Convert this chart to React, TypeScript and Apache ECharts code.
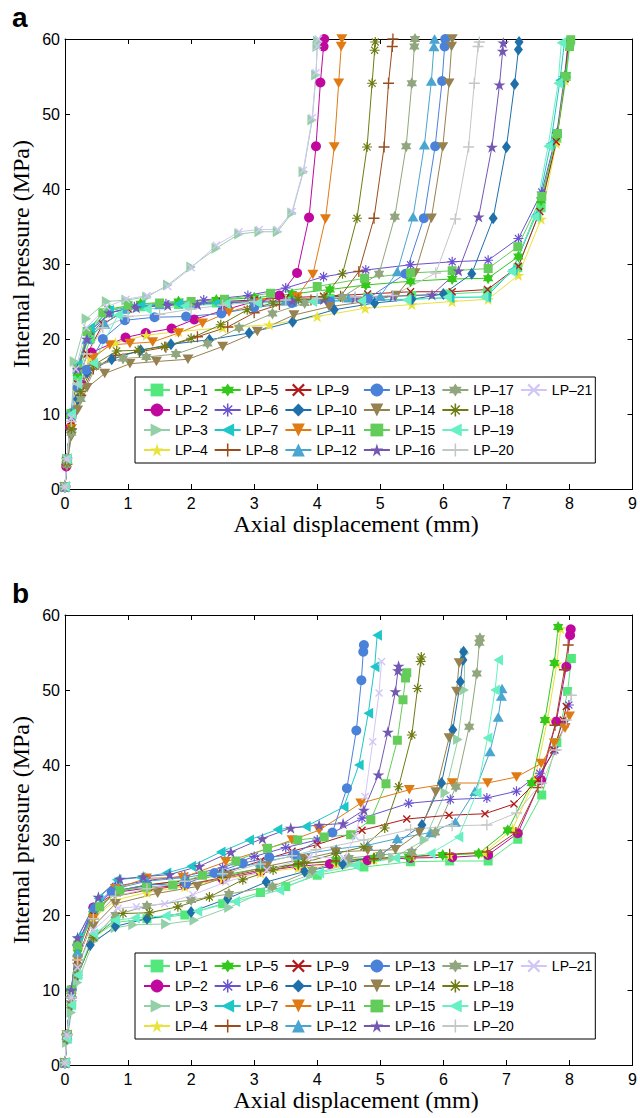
import React, { useEffect, useRef } from "react";
import * as echarts from "echarts";

type P = [number, number][];

// ---------- Panel a data (axial displacement mm, internal pressure MPa) ----------
const A1: P = [[0,0.3],[0.03,4],[0.1,10],[0.2,15],[0.4,20],[0.7,23.5],[1.2,24.3],[1.8,24.6],[2.4,24.8],[3.0,25.0],[3.6,25.2],[4.2,25.4],[4.8,25.6],[5.5,25.8],[6.1,26.0],[6.7,26.3],[7.18,29.5],[7.55,37.5],[7.8,46.8],[7.95,55],[8.01,59.6]];
const A2: P = [[0,0.3],[0.02,3],[0.08,8.2],[0.26,13.9],[0.42,18.2],[0.96,20.2],[1.28,20.8],[1.69,21.4],[2.05,22.6],[2.5,23.8],[3.0,25.0],[3.4,25.8],[3.68,28.8],[3.87,36.2],[3.98,45.7],[4.05,54.2],[4.1,59],[4.11,60]];
const A3: P = [[0,0.3],[0.03,4],[0.1,10],[0.15,17],[0.34,22.7],[0.66,25.0],[0.97,25.2],[1.3,25.6],[1.63,27.2],[2.0,29.6],[2.4,32.1],[2.76,34.0],[3.08,34.3],[3.37,34.3],[3.6,36.8],[3.78,42.3],[3.92,49.2],[3.98,55.2],[4.0,59],[4.01,59.7]];
const A4: P = [[0,0.3],[0.03,3.5],[0.1,8.5],[0.2,13],[0.4,17.5],[0.8,19.5],[1.29,20.5],[1.8,21.0],[2.5,21.5],[3.24,21.9],[4.0,23.0],[4.76,24.1],[5.5,24.6],[6.14,25.0],[6.71,25.3],[7.19,28.5],[7.55,36.0],[7.79,46.1],[7.93,54.5],[7.99,59.5]];
const A5: P = [[0,0.3],[0.03,4],[0.1,10],[0.2,15.5],[0.4,21],[0.7,24],[1.2,24.7],[1.8,25.0],[2.4,25.2],[3.0,25.5],[3.6,26.0],[4.2,26.6],[4.77,27.2],[5.48,27.7],[6.14,28.0],[6.71,28.1],[7.19,31],[7.55,38.5],[7.8,47.2],[7.94,55.2],[8.0,59.7]];
const A6: P = [[0,0.3],[0.03,4],[0.1,10],[0.2,16],[0.4,21],[0.7,23.5],[1.1,24.3],[1.6,24.7],[2.2,25.2],[2.9,25.8],[3.5,26.8],[4.1,28.3],[4.77,29.2],[5.48,29.9],[6.14,30.3],[6.71,30.5],[7.19,33.4],[7.56,39.6],[7.8,47.5],[7.92,55],[7.98,59.5]];
const A7: P = [[0,0.3],[0.03,4],[0.1,10.5],[0.2,16.5],[0.4,21.5],[0.7,23.8],[1.2,24.5],[1.8,24.7],[2.4,24.8],[3.0,24.9],[3.6,25.0],[4.2,25.1],[4.8,25.2],[5.45,25.3],[6.1,25.5],[6.68,25.6],[7.1,29.2],[7.47,36.5],[7.7,46],[7.85,54.5],[7.92,59.6]];
const A8: P = [[0,0.3],[0.03,3.3],[0.1,8],[0.25,12.5],[0.45,16],[0.8,17.8],[1.18,18.3],[1.6,18.9],[2.1,20.3],[2.58,21.6],[3.0,23.5],[3.4,24.6],[3.9,25.2],[4.37,25.7],[4.66,29.0],[4.9,36.1],[5.06,45.6],[5.13,54.1],[5.19,59],[5.2,60]];
const A9: P = [[0,0.3],[0.03,4],[0.1,9],[0.2,14],[0.35,18],[0.6,22],[1.0,24.0],[1.5,24.5],[2.0,24.8],[2.5,25.0],[3.0,25.2],[3.5,25.5],[4.1,25.7],[4.8,26.0],[5.48,26.3],[6.14,26.3],[6.7,26.6],[7.19,29.7],[7.53,37.0],[7.79,46.3],[7.93,54.7],[7.98,59.5]];
const A10: P = [[0,0.3],[0.03,3.5],[0.1,8],[0.2,12],[0.35,15.5],[0.74,17.3],[1.2,18.5],[1.68,19.3],[2.29,19.9],[2.92,20.8],[3.61,22.3],[4.27,23.9],[4.91,24.8],[5.5,25.3],[6.0,26.0],[6.45,28.7],[6.79,36.1],[7.0,45.6],[7.13,54.0],[7.19,58.6],[7.2,59.6]];
const A11: P = [[0,0.3],[0.03,3.5],[0.1,8],[0.25,13.5],[0.45,17.5],[0.71,19.2],[1.03,19.4],[1.39,19.6],[1.8,20.8],[2.18,22.1],[2.6,23.6],[3.1,24.8],[3.68,25.6],[3.93,28.6],[4.13,36.0],[4.27,45.6],[4.34,54.1],[4.38,59],[4.39,60]];
const A12: P = [[0,0.3],[0.03,4],[0.1,10],[0.2,16],[0.35,20],[0.63,22],[0.95,24.0],[1.5,24.6],[2.0,24.8],[2.5,25.0],[3.0,25.0],[3.5,25.1],[4.0,25.3],[4.5,25.5],[5.0,25.7],[5.27,29.0],[5.52,36.3],[5.7,45.9],[5.81,54.4],[5.85,59],[5.86,60]];
const A13: P = [[0,0.3],[0.03,4],[0.1,10],[0.2,13.5],[0.34,15.9],[0.6,20],[0.95,22.5],[1.42,22.9],[1.92,23.0],[2.48,23.4],[3.0,24.2],[3.6,24.8],[4.2,25.0],[4.8,25.4],[5.4,28.7],[5.69,36.1],[5.87,45.7],[5.98,54.4],[6.02,59],[6.03,60]];
const A14: P = [[0,0.3],[0.03,3],[0.1,7],[0.2,10.5],[0.35,13.5],[0.63,15.4],[1.03,16.7],[1.45,17.0],[1.95,17.3],[2.5,19.0],[3.05,21.0],[3.63,23.2],[4.19,24.3],[4.7,24.9],[5.25,25.8],[5.55,28.8],[5.81,36.1],[5.99,45.6],[6.09,54.1],[6.13,59],[6.14,60]];
const A15: P = [[0,0.3],[0.03,4],[0.1,10],[0.2,16],[0.35,21],[0.6,23.5],[1.0,24.5],[1.5,24.8],[2.0,25.0],[2.53,25.3],[3.26,26.1],[4.0,27.0],[4.75,28.1],[5.48,28.8],[6.14,29.1],[6.71,29.4],[7.18,32.3],[7.56,39.0],[7.81,47.4],[7.93,55.0],[8.0,59],[8.02,59.9]];
const A16: P = [[0,0.3],[0.03,4],[0.1,10],[0.2,16],[0.35,20],[0.7,23.5],[1.13,24.2],[1.63,24.5],[2.1,24.6],[2.6,24.8],[3.1,25.0],[3.6,25.1],[4.1,25.3],[4.6,25.5],[5.2,25.7],[5.82,25.9],[6.24,29.1],[6.56,36.3],[6.77,45.6],[6.89,53.9],[6.94,58.4],[6.95,59.5]];
const A17: P = [[0,0.3],[0.03,3.3],[0.1,7.5],[0.25,12],[0.5,16.5],[0.92,17.4],[1.29,17.6],[1.76,18.0],[2.26,19.4],[2.76,21.5],[3.29,23.4],[3.8,24.8],[4.4,25.6],[4.98,28.7],[5.23,36.3],[5.41,45.7],[5.5,54.1],[5.54,59],[5.55,60]];
const A18: P = [[0,0.3],[0.03,3.5],[0.1,8],[0.25,13],[0.45,16.5],[0.82,18.4],[1.16,18.5],[1.58,19.0],[2.0,20.1],[2.47,21.9],[2.89,23.9],[3.3,24.8],[3.7,25.3],[4.11,25.6],[4.4,28.7],[4.63,36.1],[4.79,45.6],[4.87,54.1],[4.91,58.5],[4.92,59.6]];
const A19: P = [[0,0.3],[0.03,4],[0.1,10],[0.2,14],[0.45,16.8],[0.84,23.2],[1.3,24.0],[1.9,24.4],[2.55,24.7],[3.05,24.8],[3.92,25.0],[4.7,25.1],[5.42,25.2],[6.06,25.6],[6.64,25.6],[7.08,29.0],[7.45,36.3],[7.66,45.7],[7.82,54.1],[7.87,59.5]];
const A20: P = [[0,0.3],[0.03,4],[0.1,9],[0.2,14],[0.35,18],[0.6,21.5],[1.0,23],[1.5,23.3],[2.0,24],[2.5,24.5],[3.0,25],[3.5,25.2],[4.0,25.4],[4.6,25.6],[5.2,25.8],[5.88,28.8],[6.19,36.0],[6.4,45.6],[6.49,54.1],[6.55,59],[6.57,59.6]];
const A21: P = [[0,0.3],[0.03,4],[0.1,9.5],[0.17,16],[0.34,21.5],[0.66,24.3],[0.97,25.3],[1.3,25.8],[1.63,27.0],[2.0,29.5],[2.4,32.5],[2.76,34.3],[3.08,34.6],[3.37,34.6],[3.6,37],[3.78,42.5],[3.92,49.5],[3.98,55.5],[4.0,59],[4.02,60]];

// ---------- Panel b data ----------
const B1: P = [[0,0.3],[0.03,3.5],[0.1,8],[0.2,12],[0.45,17],[0.8,19],[1.3,19.5],[1.9,20],[2.5,21.5],[3.1,23],[3.5,23.8],[4.0,25.3],[4.74,26.4],[5.48,27.1],[6.1,27.2],[6.71,27.2],[7.18,30.1],[7.56,36.0],[7.8,43],[7.97,49.8],[8.03,54.2]];
const B2: P = [[0,0.3],[0.03,4],[0.1,10],[0.2,16],[0.45,21],[0.8,23],[1.3,23.6],[1.9,24],[2.5,24.8],[3.1,25.8],[3.7,26.5],[4.2,26.8],[4.8,27.3],[5.48,27.6],[6.14,27.7],[6.71,28.0],[7.18,30.9],[7.55,38],[7.79,45.8],[7.95,53.1],[8.01,57.3],[8.02,58.1]];
const B3: P = [[0,0.3],[0.03,3],[0.1,7],[0.2,11],[0.45,16.5],[0.8,18.3],[1.08,18.7],[1.6,18.8],[2.05,19.3],[2.6,21],[3.29,23.6],[3.9,25.4],[4.5,26.8],[5.2,27.6],[5.7,30],[6.03,36.3],[6.23,43.4],[6.33,50.0],[6.34,54.9]];
const B4: P = [[0,0.3],[0.03,4],[0.1,9],[0.2,14],[0.45,19.5],[0.8,22],[1.3,23],[1.9,23.8],[2.5,24.8],[3.1,25.6],[3.7,26.3],[4.3,26.8],[4.9,27.4],[5.5,27.8],[6.1,28.0],[6.65,28.3],[7.1,31.5],[7.45,38],[7.65,46],[7.8,53.5],[7.86,58.2]];
const B5: P = [[0,0.3],[0.03,4],[0.1,9.5],[0.2,15],[0.45,20.5],[0.8,23],[1.3,24],[1.9,24.6],[2.5,25.3],[3.1,26.2],[3.7,26.8],[4.3,27.3],[4.9,27.6],[5.45,27.8],[5.99,28.0],[6.56,28.2],[7.02,31.3],[7.4,37.6],[7.61,46.0],[7.76,53.6],[7.82,58.4]];
const B6: P = [[0,0.3],[0.03,4],[0.1,10],[0.2,16],[0.45,21],[0.8,23.8],[1.3,24.6],[1.9,25.2],[2.5,26.3],[3.0,27.8],[3.5,29.0],[4.0,30.0],[4.71,32.9],[5.45,34.9],[6.11,35.4],[6.69,35.6],[7.16,36.5],[7.53,38.9],[7.77,42.0],[7.93,45.5],[7.99,48]];
const B7: P = [[0,0.3],[0.03,4],[0.1,10],[0.2,17],[0.53,22.2],[0.82,24.7],[1.2,25.0],[1.61,25.6],[2.0,26.5],[2.47,28.4],[2.92,30.0],[3.37,31.4],[3.82,31.8],[4.42,34.4],[4.66,40.0],[4.81,46.9],[4.91,53.1],[4.95,57.3]];
const B8: P = [[0,0.3],[0.03,4],[0.1,9],[0.2,14],[0.45,19.5],[0.8,22.5],[1.3,23.3],[1.9,24],[2.5,25],[3.1,26],[3.7,26.8],[4.3,27.2],[4.9,27.5],[5.5,27.8],[6.1,28.1],[6.7,28.4],[7.15,31],[7.5,37],[7.77,45.3],[7.92,52.7],[7.98,56.0]];
const B9: P = [[0,0.3],[0.03,4],[0.1,9],[0.2,14],[0.45,20],[0.8,23.2],[1.3,24.0],[1.9,24.6],[2.5,25.6],[3.1,27.2],[3.6,28.5],[4.0,29.4],[4.71,31.3],[5.42,32.8],[6.09,33.3],[6.66,33.5],[7.12,34.8],[7.5,38],[7.75,42],[7.9,46],[7.95,47.8]];
const B10: P = [[0,0.3],[0.03,3.5],[0.1,8],[0.2,12],[0.4,16],[0.8,18.5],[1.3,19.5],[2.0,20.4],[2.58,22.2],[3.19,24.4],[3.8,25.8],[4.4,26.8],[5.0,28.0],[5.66,32.0],[5.97,37.6],[6.15,44.7],[6.27,51.1],[6.31,54],[6.32,55.1]];
const B11: P = [[0,0.3],[0.03,4],[0.1,9],[0.2,14],[0.45,19.5],[0.8,23.5],[1.29,24.9],[1.87,25.0],[2.55,27.1],[3.2,28.8],[3.6,30],[4.03,31.3],[4.69,34.9],[5.46,36.7],[6.14,37.6],[6.7,37.6],[7.16,38.4],[7.55,40.2],[7.76,42.9],[7.93,44.9],[8.0,46.5]];
const B12: P = [[0,0.3],[0.03,4],[0.1,9.5],[0.2,15],[0.45,21],[0.8,23.5],[1.3,24.5],[1.9,25.0],[2.5,25.8],[3.1,27.0],[3.7,28.0],[4.3,28.8],[4.8,29.3],[5.27,30.2],[5.8,31.0],[6.19,32.4],[6.5,36.5],[6.74,41.8],[6.87,46.4],[6.92,49.2],[6.93,50.2]];
const B13: P = [[0,0.3],[0.03,4],[0.1,10],[0.2,16],[0.47,20.9],[0.74,23.1],[1.3,24.0],[1.92,24.2],[2.37,25.6],[2.82,26.9],[3.24,27.7],[3.63,28.1],[4.24,31.0],[4.47,36.9],[4.62,44.6],[4.7,51.3],[4.73,55.1],[4.74,56.0]];
const B14: P = [[0,0.3],[0.03,3.5],[0.1,8],[0.2,13],[0.45,18.5],[0.8,21.5],[1.47,22.9],[2.1,23.8],[2.6,25.2],[3.2,26.5],[3.8,27.5],[4.29,28.4],[4.8,28.6],[5.24,28.7],[5.62,31.0],[5.88,36.4],[6.09,43.6],[6.21,49.8],[6.25,53.6]];
const B15: P = [[0,0.3],[0.03,4],[0.1,10],[0.2,16],[0.55,21.1],[0.87,23.3],[1.29,23.7],[1.71,24.0],[2.18,25.3],[2.71,27.2],[3.21,28.9],[3.69,30.0],[4.11,30.4],[4.53,30.7],[4.85,32.7],[5.09,37.5],[5.27,43.3],[5.36,48.7],[5.4,51.6],[5.42,52.3]];
const B16: P = [[0,0.3],[0.03,4],[0.1,10],[0.2,17],[0.53,22.4],[0.87,24.8],[1.24,25.1],[1.66,25.4],[2.13,26.5],[2.63,28.4],[3.13,30.2],[3.58,31.6],[4.03,32.0],[4.41,32.2],[4.74,34.0],[4.97,38.7],[5.12,44.4],[5.24,49.8],[5.28,52.6],[5.29,53.2]];
const B17: P = [[0,0.3],[0.03,3.5],[0.1,8],[0.2,12],[0.45,17],[0.8,20],[1.3,21.2],[2.0,22],[2.6,22.8],[3.29,23.8],[3.92,26.0],[4.5,27.6],[5.0,28.0],[5.5,28.4],[5.87,31.0],[6.2,37.1],[6.41,45.1],[6.53,52.2],[6.57,56.3],[6.58,56.9]];
const B18: P = [[0,0.3],[0.03,3.5],[0.1,8],[0.2,12],[0.45,17],[0.92,20.2],[1.34,20.3],[1.79,21.1],[2.29,22.4],[2.82,24.7],[3.3,26],[3.8,27],[4.3,28.2],[4.74,29.1],[5.07,31.6],[5.29,37.1],[5.5,44.0],[5.59,50.2],[5.64,53.8],[5.65,54.4]];
const B19: P = [[0,0.3],[0.03,3.5],[0.1,8],[0.2,12],[0.45,17.5],[0.8,19.3],[1.11,19.6],[1.6,19.9],[2.1,20.5],[2.7,21.8],[3.4,23.3],[4.03,25.6],[4.6,26.6],[5.24,27.6],[5.8,28.2],[6.24,30.4],[6.53,36.3],[6.7,43.6],[6.82,50.0],[6.87,54.0]];
const B20: P = [[0,0.3],[0.03,4],[0.1,9],[0.2,14],[0.45,19.5],[0.8,22.5],[1.3,23.5],[1.9,24.5],[2.5,25.5],[3.1,26.8],[3.6,27.9],[3.98,28.7],[4.74,30.0],[5.48,31.4],[6.14,31.9],[6.69,32.0],[7.16,33.6],[7.56,37.6],[7.79,42.0],[7.95,46],[8.03,49.3]];
const B21: P = [[0,0.3],[0.03,4],[0.1,9],[0.2,13],[0.45,18],[0.84,20.9],[1.13,21.1],[1.58,21.5],[2.03,22.7],[2.55,24.4],[3.2,26],[3.87,27.7],[4.42,27.6],[4.6,30.5],[4.76,35.8],[4.88,43.1],[4.98,49.6],[5.02,53.8]];

const PANEL_A: P[] = [A1,A2,A3,A4,A5,A6,A7,A8,A9,A10,A11,A12,A13,A14,A15,A16,A17,A18,A19,A20,A21];
const PANEL_B: P[] = [B1,B2,B3,B4,B5,B6,B7,B8,B9,B10,B11,B12,B13,B14,B15,B16,B17,B18,B19,B20,B21];

const NAMES = Array.from({ length: 21 }, (_, i) => `LP\u2013${i + 1}`);
const X_TICKS = { min: 0, max: 9, interval: 1 };
const Y_TICKS = { min: 0, max: 60, interval: 10 };

const COLORS = [
  "#52e87c", "#c0089e", "#93d0a6", "#e8e23a", "#33c81a", "#6a52d0", "#1ec6c8",
  "#9a4d1c", "#b01a1a", "#1f6faa", "#e07b14", "#4aa5d0", "#4b82d9", "#968250",
  "#64cc5a", "#7258b2", "#91a67e", "#6e7c12", "#68f0c4", "#c3c8c4", "#d2c6f6",
];

// marker shapes
const TRI_UP = "path://M50,0 L100,87 L0,87 Z";
const TRI_DOWN = "path://M0,0 L100,0 L50,87 Z";
const TRI_RIGHT = "path://M0,0 L87,50 L0,100 Z";
const TRI_LEFT = "path://M87,0 L0,50 L87,100 Z";
const STAR5 = "path://M50,0 L61.2,34.5 L97.6,34.5 L68.2,55.9 L79.4,90.5 L50,69.1 L20.6,90.5 L31.8,55.9 L2.4,34.5 L38.8,34.5 Z";
const HEXA = "path://M50,0 L64.4,25 L93.3,25 L78.9,50 L93.3,75 L64.4,75 L50,100 L35.6,75 L6.7,75 L21.1,50 L6.7,25 L35.6,25 Z";
const PLUS = "path://M44,0 L56,0 L56,44 L100,44 L100,56 L56,56 L56,100 L44,100 L44,56 L0,56 L0,44 L44,44 Z";
const XMARK = "path://M12,0 L50,38 L88,0 L100,12 L62,50 L100,88 L88,100 L50,62 L12,100 L0,88 L38,50 L0,12 Z";
const ASTER = "path://M44,0 L56,0 L56,44 L100,44 L100,56 L56,56 L56,100 L44,100 L44,56 L0,56 L0,44 L44,44 Z M19,11 L50,42 L81,11 L89,19 L58,50 L89,81 L81,89 L50,58 L19,89 L11,81 L42,50 L11,19 Z";

const SYMBOLS: [string, number | number[]][] = [
  ["rect", 9], ["circle", 10], [TRI_RIGHT, 11], [STAR5, 12], [HEXA, 12], [ASTER, 10], [TRI_LEFT, 11],
  [PLUS, 11], [XMARK, 8], ["diamond", [9, 12]], [TRI_DOWN, 11], [TRI_UP, 11], ["circle", 10], [TRI_DOWN, 11],
  ["rect", 9], [STAR5, 12], [HEXA, 12], [ASTER, 10], [TRI_LEFT, 11], [PLUS, 11], [XMARK, 8],
];

const SANS = "Liberation Sans, Arial, Helvetica, sans-serif";
const SERIF = "Liberation Serif, Times New Roman, serif";
const OFFSET = 576; // vertical distance between the panels

export default function App() {
  const ref = useRef<HTMLDivElement>(null);

  useEffect(() => {
    if (!ref.current) return;
    const chart = echarts.init(ref.current, undefined, { renderer: "svg" });

    const grids = [0, 1].map((p) => ({ left: 65, top: 39 + p * OFFSET, width: 570, height: 450 }));

    const xAxis: any[] = [];
    const yAxis: any[] = [];
    [0, 1].forEach((p) => {
      const base = {
        gridIndex: p,
        type: "value",
        ...X_TICKS,
        splitLine: { show: false },
        axisLine: { show: true, onZero: false, lineStyle: { color: "#000", width: 1 } },
        axisTick: { show: true, inside: true, length: 5, lineStyle: { color: "#000", width: 1 } },
      };
      xAxis.push({ ...base, position: "bottom", axisLabel: { show: true, margin: 6, color: "#000", fontSize: 16, fontFamily: SANS } });
      xAxis.push({ ...base, position: "top", axisLabel: { show: false } });
      const ybase = { ...base, ...Y_TICKS };
      yAxis.push({ ...ybase, position: "left", axisLabel: { show: true, margin: 5, color: "#000", fontSize: 16, fontFamily: SANS } });
      yAxis.push({ ...ybase, position: "right", axisLabel: { show: false } });
    });

    const series: any[] = [];
    [PANEL_A, PANEL_B].forEach((panel, p) => {
      panel.forEach((data, i) => {
        series.push({
          type: "line",
          name: NAMES[i],
          xAxisIndex: p * 2,
          yAxisIndex: p * 2,
          data,
          symbol: SYMBOLS[i][0],
          symbolSize: SYMBOLS[i][1],
          symbolKeepAspect: true,
          showSymbol: true,
          clip: false,
          silent: true,
          lineStyle: { color: COLORS[i], width: 1 },
          itemStyle: { color: COLORS[i] },
          emphasis: { disabled: true },
        });
      });
    });

    const legend = [0, 1].map((p) => ({
      data: NAMES,
      orient: "vertical",
      left: 135,
      top: 377 + p * OFFSET,
      height: 83,
      itemGap: 6,
      itemWidth: 26,
      itemHeight: 16,
      padding: [6, 3, 6, 8],
      borderColor: "#000",
      borderWidth: 1,
      backgroundColor: "#fff",
      selectedMode: false,
      textStyle: { fontSize: 14, fontFamily: SANS, color: "#000" },
    }));

    const graphic: any[] = [];
    [0, 1].forEach((p) => {
      graphic.push({
        type: "text",
        x: 12,
        y: 17 + p * OFFSET,
        style: { text: p === 0 ? "a" : "b", font: `bold 28px ${SANS}`, fill: "#000", textAlign: "left", textVerticalAlign: "middle" },
      });
      graphic.push({
        type: "text",
        x: 356,
        y: 524 + p * OFFSET,
        style: { text: "Axial displacement (mm)", font: `24px ${SERIF}`, fill: "#000", textAlign: "center", textVerticalAlign: "middle" },
      });
      graphic.push({
        type: "text",
        x: 21,
        y: 254 + p * OFFSET,
        rotation: Math.PI / 2,
        style: { text: "Internal pressure (MPa)", font: `24px ${SERIF}`, fill: "#000", textAlign: "center", textVerticalAlign: "middle" },
      });
    });

    chart.setOption({
      animation: false,
      backgroundColor: "#fff",
      grid: grids,
      xAxis,
      yAxis,
      legend,
      series,
      graphic,
    });

    return () => chart.dispose();
  }, []);

  return <div ref={ref} style={{ position: "absolute", left: 0, top: 0, width: 640, height: 1118 }} />;
}
